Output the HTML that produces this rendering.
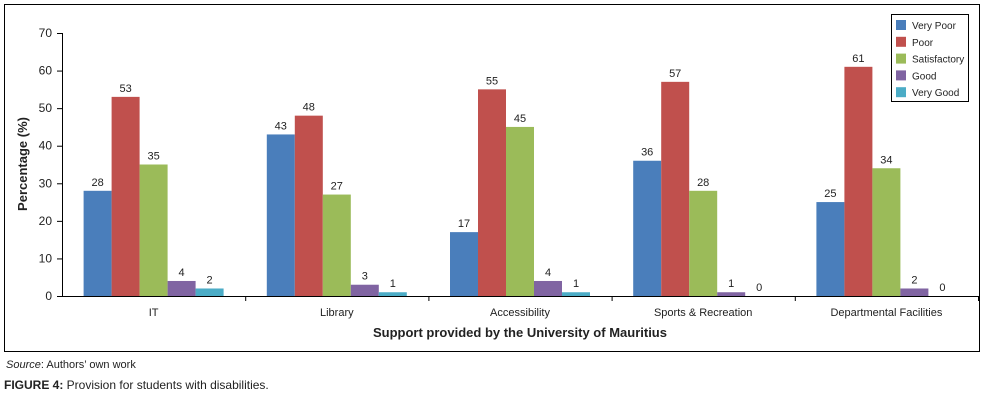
<!DOCTYPE html>
<html><head><meta charset="utf-8"><style>
body{margin:0;background:#fff;width:982px;height:404px;overflow:hidden;font-family:"Liberation Sans",sans-serif}
</style></head><body>
<svg id="c" width="982" height="404" style="position:absolute;left:0;top:0">
<rect x="4.5" y="4.5" width="975" height="347" fill="none" stroke="#000"/>
<text x="6" y="368" font-size="11" fill="#222"><tspan font-style="italic">Source</tspan>: Authors’ own work</text>
<text x="4" y="389" font-size="12" fill="#222"><tspan font-weight="bold">FIGURE 4:</tspan> Provision for students with disabilities.</text>
</svg>
<script>
const categories=["IT","Library","Accessibility","Sports & Recreation","Departmental Facilities"];
const seriesNames=["Very Poor","Poor","Satisfactory","Good","Very Good"];
const veryPoor=[28,43,17,36,25];
const poor=[53,48,55,57,61];
const satisfactory=[35,27,45,28,34];
const good=[4,3,4,1,2];
const veryGood=[2,1,1,0,0];
const yTicks=[0,10,20,30,40,50,60,70];
const colors=["#4a7ebb","#c0504d","#9bbb59","#8064a2","#4bacc6"];
const series=[veryPoor,poor,satisfactory,good,veryGood];
const svg=document.getElementById('c');const NS='http://www.w3.org/2000/svg';
const L=62,R=978,T=33,B=296;
const y=v=>B-(v/70)*(B-T);
const cw=(R-L)/categories.length;
const bw=28;
const x=(ci,si)=>L+ci*cw+(cw-5*bw)/2+si*bw;
function mk(t,a){const e=document.createElementNS(NS,t);for(const k in a)e.setAttribute(k,a[k]);svg.appendChild(e);return e;}
series.forEach((s,si)=>s.forEach((v,ci)=>{
 const r=mk('rect',{x:x(ci,si),y:y(v),width:bw,height:B-y(v),fill:colors[si]});
 
 
 const t=mk('text',{x:x(ci,si)+bw/2,y:y(v)-5,'font-size':11,'text-anchor':'middle',fill:'#222'});
 t.textContent=v;
 
 
}));
const ya=mk('line',{x1:L+.5,y1:T,x2:L+.5,y2:B,stroke:'#000'});


const xa=mk('line',{x1:L,y1:B+.5,x2:R,y2:B+.5,stroke:'#000'});


yTicks.forEach(v=>{
 mk('line',{x1:L-5,y1:y(v)+.5,x2:L,y2:y(v)+.5,stroke:'#000'});
 const t=mk('text',{x:L-10,y:y(v)+4,'font-size':12,'text-anchor':'end',fill:'#222'});
 t.textContent=v;
 
 
});
categories.forEach((c,ci)=>{
 const sx=L+(ci+1)*cw;
 mk('line',{x1:sx+.5,y1:B,x2:sx+.5,y2:B+5,stroke:'#000'});
 const t=mk('text',{x:L+ci*cw+cw/2,y:B+20,'font-size':11,'text-anchor':'middle',fill:'#222'});
 t.textContent=c;
 
 
});
const xt=mk('text',{x:(L+R)/2,y:337,'font-size':13,'font-weight':'bold','text-anchor':'middle',fill:'#222'});
xt.textContent='Support provided by the University of Mauritius';


const yt=mk('text',{x:0,y:0,'font-size':13,'font-weight':'bold','text-anchor':'middle',fill:'#222',transform:'translate(27,164) rotate(-90)'});
yt.textContent='Percentage (%)';


const lg=mk('rect',{x:891.5,y:14.5,width:77,height:87,fill:'#fff',stroke:'#000'});


seriesNames.forEach((n,i)=>{
 const yy=20+i*16.8;
 mk('rect',{x:896,y:yy,width:10,height:10,fill:colors[i]});
 const t=mk('text',{x:912,y:yy+9,'font-size':10,fill:'#222'});
 t.textContent=n;
 
 
});
</script>
</body></html>
